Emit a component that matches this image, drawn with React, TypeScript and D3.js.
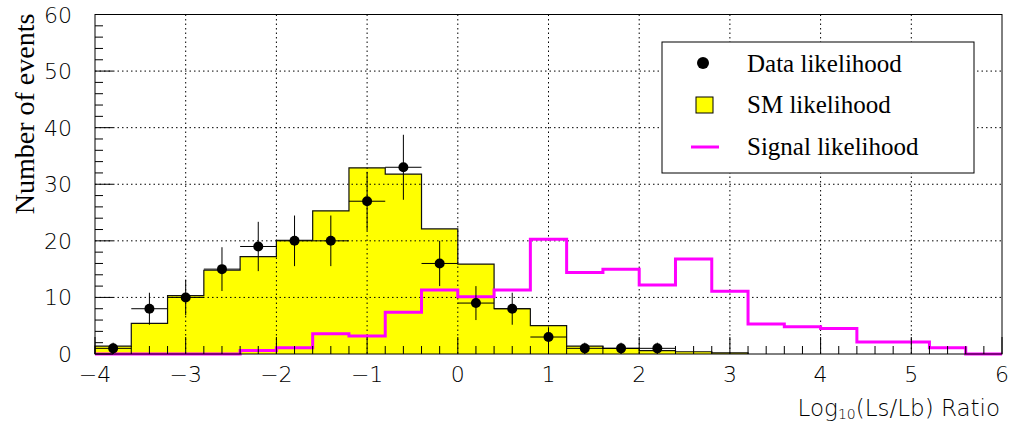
import React, { useEffect, useRef } from 'react';
import * as d3 from 'd3';

// histogram bins: 25 bins of width 0.4 from -4 to 6
const binEdges = d3.range(0, 26).map((i) => -4 + i * 0.4);

// SM expectation (yellow histogram)
const smValues = [
  1.4, 5.4, 10.3, 14.8, 17.2, 20.1, 25.3, 32.9, 31.8, 22.1, 15.9, 8.0, 5.0,
  1.4, 1.0, 0.6, 0.4, 0.2, 0, 0, 0, 0, 0, 0, 0,
];

// signal expectation (magenta line)
const signalValues = [
  0, 0, 0, 0, 0.6, 1.1, 3.6, 3.2, 7.4, 11.3, 10.1, 11.3, 20.3, 14.4, 15.0,
  12.2, 16.8, 11.1, 5.3, 4.8, 4.5, 2.1, 2.1, 1.1, 0,
];

// observed counts (points), first 16 bins
const dataCounts = [1, 8, 10, 15, 19, 20, 20, 27, 33, 16, 9, 8, 3, 1, 1, 1];

const xTickLabels = ['\u22124', '\u22123', '\u22122', '\u22121', '0', '1', '2', '3', '4', '5', '6'];
const yTickLabels = ['0', '10', '20', '30', '40', '50', '60'];

const legendLabels = ['Data likelihood', 'SM likelihood', 'Signal likelihood'];

export default function App() {
  const ref = useRef<SVGSVGElement>(null);

  useEffect(() => {
    const width = 1010;
    const height = 423;
    const left = 95;
    const right = 1002;
    const top = 14.5;
    const bottom = 354;
    const tickFont = "'DejaVu Sans', sans-serif";
    const serif = "'Liberation Serif', 'Times New Roman', serif";

    const svg = d3.select(ref.current).attr('width', width).attr('height', height);
    svg.selectAll('*').remove();

    const x = d3.scaleLinear().domain([-4, 6]).range([left, right]);
    const y = d3.scaleLinear().domain([0, 60]).range([bottom, top]);

    // step points for histograms
    const steps = (vals: number[]) =>
      vals.map((v, i) => [binEdges[i], v]).concat([[binEdges[vals.length], vals[vals.length - 1]]]);

    const area = d3
      .area<number[]>()
      .x((d) => x(d[0]))
      .y0(y(0))
      .y1((d) => y(d[1]))
      .curve(d3.curveStepAfter);

    const line = d3
      .line<number[]>()
      .x((d) => x(d[0]))
      .y((d) => y(d[1]))
      .curve(d3.curveStepAfter);

    // SM fill
    svg.append('path').attr('d', area(steps(smValues))).attr('fill', '#ffff00');

    // grid
    const grid = svg.append('g').attr('stroke', '#000').attr('stroke-width', 1).attr('stroke-dasharray', '1.5 3');
    d3.range(-3, 6).forEach((v) => {
      grid.append('line').attr('x1', x(v)).attr('x2', x(v)).attr('y1', top).attr('y2', bottom);
    });
    d3.range(10, 60, 10).forEach((v) => {
      grid.append('line').attr('x1', left).attr('x2', right).attr('y1', y(v)).attr('y2', y(v));
    });

    // SM outline (closed down to zero at both ends)
    const smPts = steps(smValues.slice(0, 18));
    svg
      .append('path')
      .attr('d', 'M' + x(-4) + ',' + y(0) + 'L' + line(smPts)!.slice(1) + 'L' + x(binEdges[18]) + ',' + y(0))
      .attr('fill', 'none')
      .attr('stroke', '#111')
      .attr('stroke-width', 1.2);

    // signal line
    svg
      .append('path')
      .attr('d', line(steps(signalValues)))
      .attr('fill', 'none')
      .attr('stroke', '#ff00ff')
      .attr('stroke-width', 3);

    // data points with errors
    const pts = svg.append('g');
    dataCounts.forEach((n, i) => {
      const cx = (binEdges[i] + binEdges[i + 1]) / 2;
      const err = Math.sqrt(n);
      pts.append('line').attr('x1', x(binEdges[i])).attr('x2', x(binEdges[i + 1]))
        .attr('y1', y(n)).attr('y2', y(n)).attr('stroke', '#000').attr('stroke-width', 1);
      pts.append('line').attr('x1', x(cx)).attr('x2', x(cx))
        .attr('y1', y(n - err)).attr('y2', y(n + err)).attr('stroke', '#000').attr('stroke-width', 1);
      pts.append('circle').attr('cx', x(cx)).attr('cy', y(n)).attr('r', 5).attr('fill', '#000');
    });

    // frame
    svg.append('rect').attr('x', left).attr('y', top).attr('width', right - left).attr('height', bottom - top)
      .attr('fill', 'none').attr('stroke', '#000').attr('stroke-width', 1);

    // x ticks
    const ax = svg.append('g').attr('stroke', '#000').attr('stroke-width', 1);
    d3.range(0, 51).forEach((i) => {
      const v = -4 + i * 0.2;
      const len = i % 5 === 0 ? 17 : 8;
      ax.append('line').attr('x1', x(v)).attr('x2', x(v)).attr('y1', bottom).attr('y2', bottom - len);
    });
    // y ticks
    d3.range(0, 31).forEach((i) => {
      const v = i * 2;
      const len = i % 5 === 0 ? 18 : 8;
      ax.append('line').attr('x1', left).attr('x2', left + len).attr('y1', y(v)).attr('y2', y(v));
    });

    // tick labels
    xTickLabels.forEach((t, i) => {
      svg.append('text').attr('x', x(-4 + i)).attr('y', 382).attr('text-anchor', 'middle')
        .attr('font-family', tickFont).attr('font-weight', 200).attr('font-size', 22).text(t);
    });
    yTickLabels.forEach((t, i) => {
      svg.append('text').attr('x', 72).attr('y', y(i * 10) + 8).attr('text-anchor', 'end')
        .attr('font-family', tickFont).attr('font-weight', 200).attr('font-size', 22).text(t);
    });

    // axis titles
    const xt = svg.append('text').attr('x', 1000).attr('y', 416).attr('text-anchor', 'end')
      .attr('font-family', tickFont).attr('font-weight', 200).attr('font-size', 23);
    xt.append('tspan').text('Log');
    xt.append('tspan').attr('font-size', 14).attr('dy', 3).text('10');
    xt.append('tspan').attr('dy', -3).text('(Ls/Lb) Ratio');

    svg.append('text').attr('transform', 'translate(34,114) rotate(-90)').attr('text-anchor', 'middle')
      .attr('font-family', serif).attr('font-size', 28).text('Number of events');

    // legend
    const lg = svg.append('g');
    lg.append('rect').attr('x', 662).attr('y', 42).attr('width', 312).attr('height', 131)
      .attr('fill', '#fff').attr('stroke', '#000').attr('stroke-width', 1);
    lg.append('circle').attr('cx', 703).attr('cy', 63).attr('r', 6).attr('fill', '#000');
    lg.append('rect').attr('x', 696).attr('y', 97).attr('width', 17).attr('height', 16)
      .attr('fill', '#ffff00').attr('stroke', '#000').attr('stroke-width', 1);
    lg.append('line').attr('x1', 691).attr('x2', 719).attr('y1', 147).attr('y2', 147)
      .attr('stroke', '#ff00ff').attr('stroke-width', 3);
    const baselines = [72, 113, 155];
    legendLabels.forEach((t, i) => {
      lg.append('text').attr('x', 747).attr('y', baselines[i]).attr('font-family', serif)
        .attr('font-size', 25).text(t);
    });
  });

  return <svg ref={ref} style={{ position: 'absolute', left: 0, top: 0, background: '#fff' }} />;
}
